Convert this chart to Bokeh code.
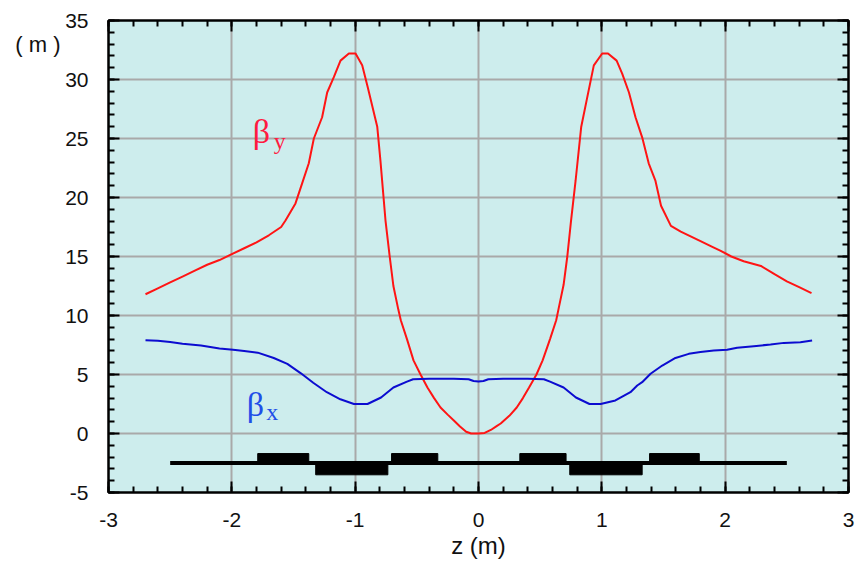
from bokeh.plotting import figure
from bokeh.models import Range1d, FixedTicker, LinearAxis, Label, ColumnDataSource
from bokeh.embed import file_html
from bokeh.resources import INLINE

# ---------------- data ----------------
beta_y_z = [-2.70, -2.60, -2.50, -2.40, -2.30, -2.20, -2.10, -2.00, -1.90, -1.80, -1.70,
            -1.60, -1.565, -1.484, -1.43, -1.376, -1.335, -1.268, -1.227, -1.173, -1.119,
            -1.051, -0.997, -0.943, -0.897, -0.821, -0.795, -0.754, -0.72, -0.69, -0.65,
            -0.63, -0.58, -0.527, -0.47, -0.414, -0.36, -0.308, -0.25, -0.20, -0.15,
            -0.10, -0.06, 0.0, 0.05, 0.10, 0.15, 0.18, 0.25, 0.31, 0.36, 0.41, 0.47,
            0.52, 0.58, 0.63, 0.65, 0.69, 0.72, 0.75, 0.787, 0.833, 0.88, 0.935, 1.003,
            1.05, 1.12, 1.165, 1.22, 1.273, 1.327, 1.38, 1.435, 1.48, 1.56, 1.64, 1.72,
            1.80, 1.90, 1.96, 2.05, 2.15, 2.29, 2.40, 2.50, 2.60, 2.70]
beta_y_v = [11.8, 12.3, 12.8, 13.3, 13.8, 14.3, 14.7, 15.2, 15.7, 16.2, 16.8,
            17.5, 18.05, 19.5, 21.2, 22.9, 25.0, 26.8, 28.9, 30.2, 31.6,
            32.2, 32.2, 31.2, 29.3, 26.0, 23.1, 18.05, 15.0, 12.5, 10.5,
            9.6, 8.0, 6.2, 5.0, 3.9, 3.0, 2.2, 1.6, 1.1, 0.6,
            0.15, 0.0, 0.0, 0.05, 0.3, 0.65, 0.85, 1.5, 2.2, 3.0, 3.9, 5.0,
            6.2, 8.0, 9.6, 10.6, 12.6, 15.0, 18.0, 21.4, 26.0, 28.4, 31.2, 32.2,
            32.2, 31.6, 30.5, 28.9, 26.8, 25.1, 22.9, 21.4, 19.3, 17.6, 17.1, 16.7,
            16.3, 15.8, 15.5, 15.0, 14.6, 14.2, 13.5, 12.9, 12.4, 11.9]

beta_x_z = [-2.70, -2.60, -2.50, -2.40, -2.25, -2.10, -1.99, -1.90, -1.79, -1.66, -1.55,
            -1.44, -1.34, -1.23, -1.12, -1.01, -0.90, -0.79, -0.69, -0.58, -0.53,
            -0.40, -0.20, -0.08, -0.04, 0.0, 0.04, 0.08, 0.20, 0.40, 0.53, 0.58,
            0.69, 0.79, 0.90, 0.99, 1.11, 1.232, 1.287, 1.327, 1.395, 1.49, 1.597,
            1.705, 1.80, 1.908, 2.016, 2.097, 2.232, 2.368, 2.476, 2.61, 2.705]
beta_x_v = [7.9, 7.85, 7.75, 7.6, 7.45, 7.2, 7.1, 7.0, 6.85, 6.4, 5.9,
            5.1, 4.3, 3.5, 2.9, 2.5, 2.5, 3.05, 3.9, 4.4, 4.6,
            4.65, 4.65, 4.6, 4.45, 4.4, 4.45, 4.6, 4.65, 4.65, 4.6, 4.4,
            3.9, 3.05, 2.5, 2.5, 2.8, 3.5, 4.07, 4.35, 5.06, 5.76, 6.4,
            6.75, 6.9, 7.03, 7.09, 7.26, 7.4, 7.54, 7.68, 7.74, 7.88]

# beamline and magnets (z in m, drawn at y in m)
beamline_z = [-2.5, 2.5]
beamline_y = [-2.5, -2.5]
magnet_left = [-1.79, -1.32, -0.705, 0.335, 0.74, 1.387]
magnet_right = [-1.376, -0.735, -0.33, 0.71, 1.327, 1.79]
magnet_top = [-1.7, -2.4, -1.7, -1.7, -2.4, -1.7]
magnet_bottom = [-2.5, -3.5, -2.5, -2.5, -3.5, -2.5]

x_major = [-3, -2, -1, 0, 1, 2, 3]
x_labels = ["-3", "-2", "-1", "0", "1", "2", "3"]
x_minor = [round(-3 + 0.2 * i, 1) for i in range(31)]
y_major = [-5, 0, 5, 10, 15, 20, 25, 30, 35]
y_labels = ["-5", "0", "5", "10", "15", "20", "25", "30", "35"]
y_minor = list(range(-5, 36))
x_title = "z (m)"
y_unit = "( m )"
y_unit_pos = 33

# ---------------- figure ----------------
FONT = "Liberation Sans"
p = figure(width=857, height=561, output_backend="svg", toolbar_location=None,
           x_range=Range1d(-3, 3), y_range=Range1d(-5, 35),
           min_border_left=108, min_border_right=9, min_border_top=20, min_border_bottom=69,
           x_axis_location=None, y_axis_location=None)
p.background_fill_color = "#cdeded"
p.border_fill_color = "white"
p.outline_line_color = "black"
p.outline_line_width = 2

def make_axis(ticks, minor, labels):
    ax = LinearAxis(ticker=FixedTicker(ticks=ticks, minor_ticks=minor))
    ax.axis_line_color = "black"
    ax.axis_line_width = 2
    ax.major_tick_in = 11
    ax.major_tick_out = 0
    ax.minor_tick_in = 6
    ax.minor_tick_out = 0
    ax.major_tick_line_width = 2
    ax.minor_tick_line_width = 2
    ax.major_tick_line_color = "black"
    ax.minor_tick_line_color = "black"
    if labels is not None:
        ax.major_label_overrides = {t: s for t, s in zip(ticks, labels)}
        ax.major_label_text_font = FONT
        ax.major_label_text_font_size = "21px"
        ax.major_label_text_color = "#111111"
        ax.major_label_standoff = 20
    else:
        ax.major_label_text_font_size = "0px"
        ax.major_label_standoff = 0
        ax.major_label_text_color = None
    return ax

xb = make_axis(x_major, x_minor, x_labels)
xb.axis_label = x_title
xb.axis_label_text_font = FONT
xb.axis_label_text_font_size = "24px"
xb.axis_label_text_font_style = "normal"
xb.axis_label_text_color = "#111111"
xb.axis_label_standoff = 2
yl = make_axis(y_major, y_minor, y_labels)
xt = make_axis(x_major, x_minor, None)
yr = make_axis(y_major, y_minor, None)
p.add_layout(xb, "below")
p.add_layout(yl, "left")
p.add_layout(xt, "above")
p.add_layout(yr, "right")

# unit label "( m )" via an extra label-only axis on the left
yu = LinearAxis(ticker=FixedTicker(ticks=[y_unit_pos], minor_ticks=[]))
yu.major_label_overrides = {y_unit_pos: y_unit}
yu.axis_line_color = None
yu.major_tick_line_color = None
yu.minor_tick_line_color = None
yu.major_tick_in = 0
yu.major_tick_out = 0
yu.major_label_text_font = FONT
yu.major_label_text_font_size = "22px"
yu.major_label_text_color = "#111111"
yu.major_label_standoff = 2
p.add_layout(yu, "left")

p.xgrid.ticker = FixedTicker(ticks=x_major)
p.ygrid.ticker = FixedTicker(ticks=y_major)
for g in (p.xgrid, p.ygrid):
    g.grid_line_color = "#a9a9a9"
    g.grid_line_width = 2

# curves
p.line(beta_y_z, beta_y_v, line_color="#ff1414", line_width=2)
p.line(beta_x_z, beta_x_v, line_color="#0c0cd0", line_width=2)

# beamline + magnets
p.line(beamline_z, beamline_y, line_color="black", line_width=4)
mag = ColumnDataSource(dict(left=magnet_left, right=magnet_right, top=magnet_top, bottom=magnet_bottom))
p.quad(left="left", right="right", top="top", bottom="bottom", source=mag,
       fill_color="black", line_color="black", line_width=1)

# labels
p.add_layout(Label(x=-1.83, y=25.6, text="β", text_font="Liberation Serif",
                   text_font_size="34px", text_color="#ff1a40", text_baseline="alphabetic"))
p.add_layout(Label(x=-1.66, y=24.8, text="y", text_font="Liberation Serif",
                   text_font_size="24px", text_color="#ff1a40", text_baseline="alphabetic"))
p.add_layout(Label(x=-1.88, y=2.5, text="β", text_font="Liberation Serif",
                   text_font_size="34px", text_color="#1f4fe8", text_baseline="alphabetic"))
p.add_layout(Label(x=-1.72, y=1.8, text="x", text_font="Liberation Serif",
                   text_font_size="24px", text_color="#1f4fe8", text_baseline="alphabetic"))

open("out.html", "w").write(file_html(p, INLINE))
